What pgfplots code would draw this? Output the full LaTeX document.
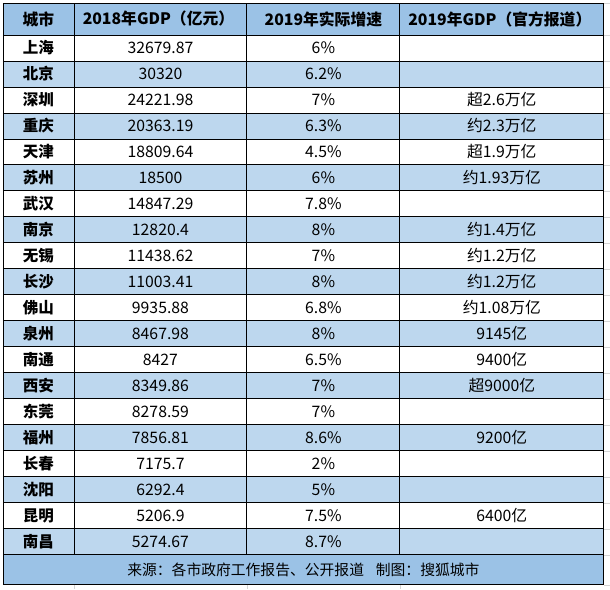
\documentclass[border=0pt]{standalone}
\usepackage{pgfplots}
\pgfplotsset{compat=1.18}
\usepackage{pgfplotstable}
\usepackage{fontspec}
\setmainfont{Noto Sans CJK SC}
\definecolor{hdr}{RGB}{155,194,230}
\definecolor{alt}{RGB}{189,215,238}
\definecolor{xlgrid}{RGB}{212,212,212}

% row, city, 2018 GDP, 2019 growth
\pgfplotstableread[col sep=comma]{
row,city,gdp,growth
1,上海,32679.87,6\%
2,北京,30320,6.2\%
3,深圳,24221.98,7\%
4,重庆,20363.19,6.3\%
5,天津,18809.64,4.5\%
6,苏州,18500,6\%
7,武汉,14847.29,7.8\%
8,南京,12820.4,8\%
9,无锡,11438.62,7\%
10,长沙,11003.41,8\%
11,佛山,9935.88,6.8\%
12,泉州,8467.98,8\%
13,南通,8427,6.5\%
14,西安,8349.86,7\%
15,东莞,8278.59,7\%
16,福州,7856.81,8.6\%
17,长春,7175.7,2\%
18,沈阳,6292.4,5\%
19,昆明,5206.9,7.5\%
20,南昌,5274.67,8.7\%
}\gdptable

% 2019 GDP as officially reported (rows that have one)
\pgfplotstableread[col sep=comma]{
row,official
3,超2.6万亿
4,约2.3万亿
5,超1.9万亿
6,约1.93万亿
8,约1.4万亿
9,约1.2万亿
10,约1.2万亿
11,约1.08万亿
12,9145亿
13,9400亿
14,超9000亿
16,9200亿
19,6400亿
}\officialtable

\begin{document}
\begin{tikzpicture}
\begin{axis}[
    scale only axis, width=610pt, height=589pt,
    xmin=0, xmax=610, ymin=0, ymax=589, y dir=reverse,
    hide axis, clip=false,
    cell/.style={only marks, mark=none, nodes near coords,
      point meta=explicit symbolic,
      every node near coord/.append style={anchor=center, inner sep=0pt,
        font=\fontsize{15.8}{17}\selectfont, text=black}},
  ]
% backgrounds
\fill[white] (axis cs:0,0) rectangle (axis cs:610,589);
\fill[hdr] (axis cs:3,3) rectangle (axis cs:604,35);
\fill[hdr] (axis cs:3,555) rectangle (axis cs:604,585);
\pgfplotsinvokeforeach{2,4,6,8,10,12,14,16,18,20}{
  \fill[alt] (axis cs:3,{35+26*(#1-1)}) rectangle (axis cs:604,{35+26*#1});
}
% faint sheet grid outside the table
\pgfplotsinvokeforeach{0,...,20}{
  \draw[xlgrid] (axis cs:604,{35+26*#1}) -- (axis cs:610,{35+26*#1});
}
\draw[xlgrid] (axis cs:604,3) -- (axis cs:610,3);
\draw[xlgrid] (axis cs:604,585) -- (axis cs:610,585);
\pgfplotsinvokeforeach{74,247,400}{
  \draw[xlgrid] (axis cs:#1,585) -- (axis cs:#1,589);
}
% rules
\pgfplotsinvokeforeach{0,...,20}{
  \draw[black, line width=0.9pt] (axis cs:3,{35+26*#1}) -- (axis cs:604,{35+26*#1});
}
\draw[black, line width=0.9pt] (axis cs:3,3) -- (axis cs:604,3);
\draw[black, line width=0.9pt] (axis cs:3,585) -- (axis cs:604,585);
\pgfplotsinvokeforeach{74,247,400}{
  \draw[black, line width=0.9pt] (axis cs:#1,3) -- (axis cs:#1,555);
}
\draw[black, line width=0.9pt] (axis cs:3,3) -- (axis cs:3,585);
\draw[black, line width=0.9pt] (axis cs:604,3) -- (axis cs:604,585);
% header
\node[font=\fontsize{15.8}{17}\selectfont\bfseries] at (axis cs:38.5,19) {城市};
\node[font=\fontsize{15.8}{17}\selectfont\bfseries] at (axis cs:158.5,19) {2018年GDP（亿元）};
\node[font=\fontsize{15.8}{17}\selectfont\bfseries] at (axis cs:323.5,19) {2019年实际增速};
\node[font=\fontsize{15.8}{17}\selectfont\bfseries] at (axis cs:500,19) {2019年GDP（官方报道）};
% body
\addplot[cell, every node near coord/.append style={font=\fontsize{15.5}{17}\selectfont\bfseries}]
  table[x expr=38.5, y expr=22+26*\thisrow{row}, meta=city] {\gdptable};
\addplot[cell] table[x expr=160.5, y expr=22+26*\thisrow{row}, meta=gdp] {\gdptable};
\addplot[cell] table[x expr=323.5, y expr=22+26*\thisrow{row}, meta=growth] {\gdptable};
\addplot[cell] table[x expr=502, y expr=22+26*\thisrow{row}, meta=official] {\officialtable};
% footer
\node[font=\fontsize{14.8}{16}\selectfont] at (axis cs:303.5,570) {来源：各市政府工作报告、公开报道\hspace{0.8em}制图：搜狐城市};
\end{axis}
\end{tikzpicture}
\end{document}
